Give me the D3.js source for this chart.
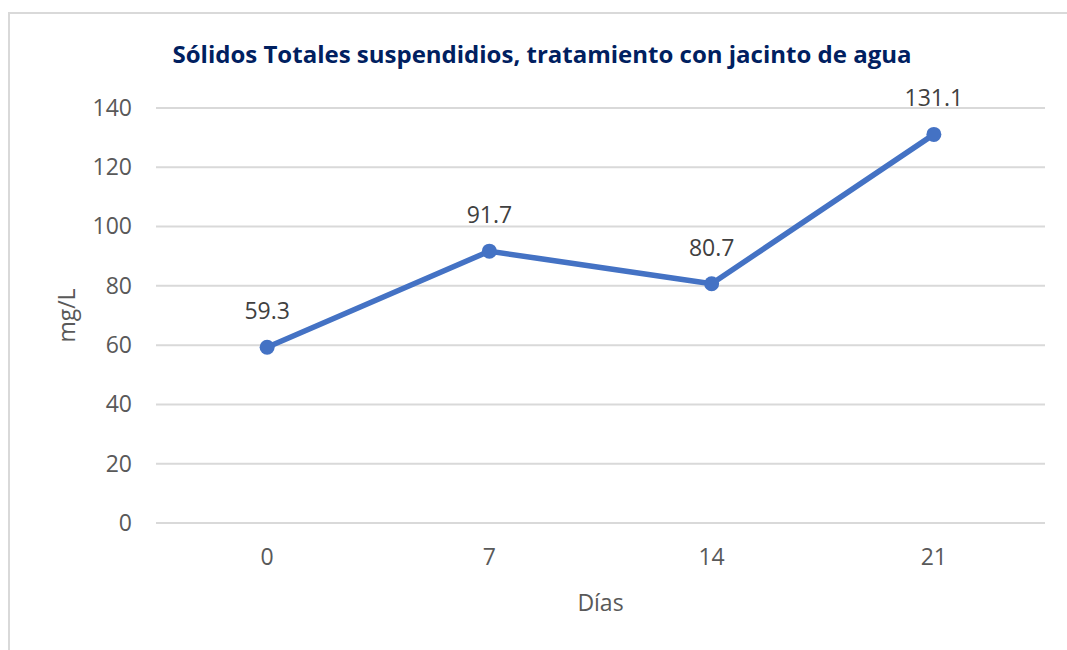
<!DOCTYPE html>
<html>
<head>
<meta charset="utf-8">
<script src="https://cdn.jsdelivr.net/npm/d3@7"></script>
<style>
  body { margin: 0; background: #fff; }
  svg { display: block; font-family: "Open Sans", "Noto Sans", sans-serif; }
</style>
</head>
<body>
<div id="chart"></div>
<script>
// chart data
const dias = ["0", "7", "14", "21"];
const solidos = [59.3, 91.7, 80.7, 131.1];
const yTicks = [0, 20, 40, 60, 80, 100, 120, 140];

const cfg = {
    width: 1067,
    height: 650,
    margin: { top: 108, right: 22, bottom: 127, left: 156 },
    color: "#4472C4",
    textColor: "#595959",
    gridColor: "#D9D9D9"
};

const width = cfg.width - cfg.margin.left - cfg.margin.right;
const height = cfg.height - cfg.margin.top - cfg.margin.bottom;

const svg = d3.select("#chart")
    .append("svg")
    .attr("width", cfg.width)
    .attr("height", cfg.height);

// chart frame (only top and left edges are in view)
svg.append("path")
    .attr("d", "M9,650 V13 H1067")
    .attr("fill", "none")
    .attr("stroke", "#D9D9D9")
    .attr("stroke-width", 2);

const g = svg.append("g")
    .attr("transform", "translate(" + cfg.margin.left + "," + cfg.margin.top + ")");

const x = d3.scaleBand()
    .domain(dias)
    .range([0, width]);

const y = d3.scaleLinear()
    .domain([0, 140])
    .range([height, 0]);

// gridlines
g.append("g")
    .selectAll("line")
    .data(yTicks)
    .join("line")
    .attr("x1", 0)
    .attr("x2", width)
    .attr("y1", d => y(d))
    .attr("y2", d => y(d))
    .attr("stroke", cfg.gridColor)
    .attr("stroke-width", 2);

// y axis labels
const yAxis = g.append("g")
    .call(d3.axisLeft(y).tickValues(yTicks).tickSize(0).tickPadding(24));
yAxis.select(".domain").remove();
yAxis.selectAll("text")
    .attr("fill", cfg.textColor)
    .style("font-size", "23px")
    .style("font-family", "'Open Sans', sans-serif");

// x axis labels
const xAxis = g.append("g")
    .attr("transform", "translate(0," + height + ")")
    .call(d3.axisBottom(x).tickSize(0).tickPadding(26));
xAxis.select(".domain").remove();
xAxis.selectAll("text")
    .attr("fill", cfg.textColor)
    .style("font-size", "23px")
    .style("font-family", "'Open Sans', sans-serif");

const cx = d => x(d) + x.bandwidth() / 2;

// line
const points = dias.map((d, i) => ({ label: d, value: solidos[i] }));

g.append("path")
    .datum(points)
    .attr("fill", "none")
    .attr("stroke", cfg.color)
    .attr("stroke-width", 5.5)
    .attr("stroke-linejoin", "round")
    .attr("d", d3.line().x(d => cx(d.label)).y(d => y(d.value)));

g.selectAll(".dot")
    .data(points)
    .join("circle")
    .attr("class", "dot")
    .attr("cx", d => cx(d.label))
    .attr("cy", d => y(d.value))
    .attr("r", 7.5)
    .attr("fill", cfg.color);

// data labels
g.selectAll(".lbl")
    .data(points)
    .join("text")
    .attr("class", "lbl")
    .attr("x", d => cx(d.label))
    .attr("y", d => y(d.value) - 28)
    .attr("text-anchor", "middle")
    .attr("fill", "#404040")
    .style("font-size", "23px")
    .text(d => d.value.toFixed(1));

// title
svg.append("text")
    .attr("x", 542)
    .attr("y", 63)
    .attr("text-anchor", "middle")
    .attr("fill", "#002060")
    .style("font-size", "24px")
    .style("font-weight", "bold")
    .text("Sólidos Totales suspendidios, tratamiento con jacinto de agua");

// axis titles
svg.append("text")
    .attr("x", cfg.margin.left + width / 2)
    .attr("y", 611)
    .attr("text-anchor", "middle")
    .attr("fill", cfg.textColor)
    .style("font-size", "23px")
    .text("Días");

svg.append("text")
    .attr("transform", "translate(75," + (cfg.margin.top + height / 2) + ") rotate(-90)")
    .attr("text-anchor", "middle")
    .attr("fill", cfg.textColor)
    .style("font-size", "23px")
    .text("mg/L");
</script>
</body>
</html>
